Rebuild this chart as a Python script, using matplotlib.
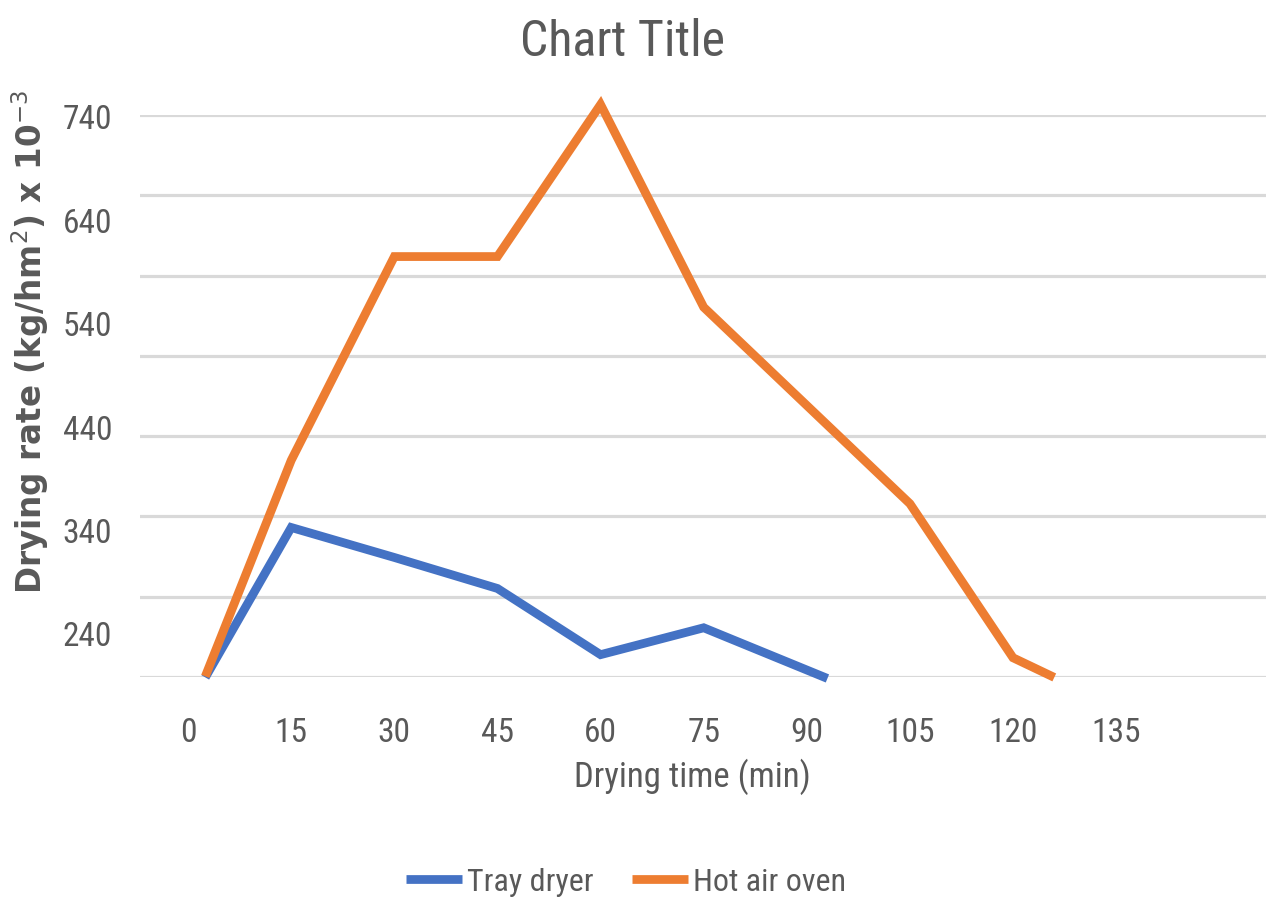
import numpy as np
import matplotlib
matplotlib.use('Agg')
import matplotlib.pyplot as plt
from matplotlib import font_manager

# data (x in minutes, y in label units)
tray_x = [2.5, 15, 30, 45, 60, 75, 93]
tray_y = [198, 343, 314, 284, 220, 246, 197]
oven_x = [2.5, 15, 30, 45, 60, 75, 90, 105, 120, 126]
oven_y = [199, 408, 605, 605, 752, 556, 461, 366, 217, 198]

xticks = [0, 15, 30, 45, 60, 75, 90, 105, 120, 135]
yticks = [240, 340, 440, 540, 640, 740]

BLUE = '#4472C4'
ORANGE = '#ED7D31'
GREY = '#595959'

# narrow font if we have one (the chart text is tall and thin)
names = {f.name for f in font_manager.fontManager.ttflist}
narrow = None
for cand in ['Liberation Sans Narrow', 'DejaVu Sans Condensed', 'Roboto Condensed']:
    if cand in names:
        narrow = cand
        break
if narrow is None:
    narrow = 'Liberation Sans'
    k = 0.8
else:
    k = 1.0
fam = [narrow, 'DejaVu Sans']

W, H = 1266, 897
fig = plt.figure(figsize=(W / 100, H / 100), dpi=100)
ax = fig.add_axes([140 / W, 1 - 677 / H, 1 - 140 / W, (677 - 115) / H])

ax.plot(tray_x, tray_y, color=BLUE, lw=6.3, solid_joinstyle='miter',
        solid_capstyle='butt', clip_on=False, label='Tray dryer', zorder=3)
ax.plot(oven_x, oven_y, color=ORANGE, lw=6.3, solid_joinstyle='miter',
        solid_capstyle='butt', clip_on=False, label='Hot air oven', zorder=3)

ylo, yhi = 198.4, 741.9
ax.set_xlim(-7.0, 156.8)
ax.set_ylim(ylo, yhi)

ax.set_xticks(xticks)
ax.set_xticklabels([str(v) for v in xticks], family=fam, fontsize=24 * k, color=GREY)
ax.set_yticks(yticks)
ax.set_yticklabels([str(v) for v in yticks], family=fam, fontsize=24 * k, color=GREY)
# horizontal gridlines sit on their own spacing
ax.set_yticks(np.linspace(ylo, yhi, 8), minor=True)
ax.grid(which='minor', axis='y', color='#D9D9D9', lw=2.3)
ax.tick_params(axis='both', which='both', length=0)
ax.tick_params(axis='y', pad=20)
ax.tick_params(axis='x', pad=29)
for s in ax.spines.values():
    s.set_visible(False)
ax.set_axisbelow(True)

fig.text(622 / W, 1 - 42 / H, 'Chart Title', family=fam, fontsize=36 * k,
         color=GREY, ha='center', va='center')
fig.text(692 / W, 1 - 777 / H, 'Drying time (min)', family=fam, fontsize=25 * k,
         color=GREY, ha='center', va='center')
fig.text(30 / W, 1 - 342 / H, r'Drying rate (kg/hm$^2$) x 10$^{-3}$',
         family='DejaVu Sans', fontweight='bold', fontsize=23.5, color=GREY,
         rotation=90, ha='center', va='center')

leg = fig.legend(loc='center', bbox_to_anchor=(626 / W, 1 - 882 / H), ncol=2,
                 frameon=False, handlelength=1.75, handletextpad=0.15,
                 columnspacing=1.2, prop={'family': fam, 'size': 23 * k})
for t in leg.get_texts():
    t.set_color(GREY)

fig.savefig('out.png', dpi=100)
